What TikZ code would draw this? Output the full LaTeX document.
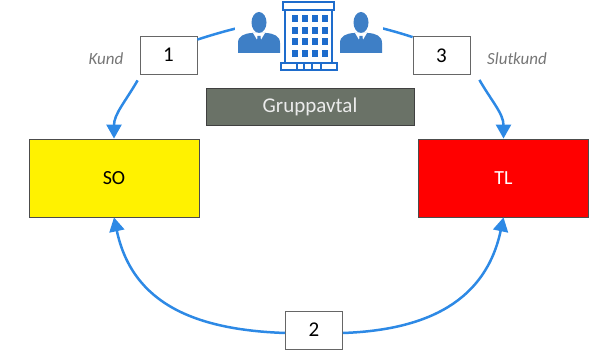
\documentclass[tikz,border=0pt]{standalone}
\usepackage{fontspec}
\setmainfont{Carlito}
\usetikzlibrary{arrows.meta, positioning, calc}

\definecolor{flowblue}{RGB}{45,137,229}
\definecolor{iconblue}{RGB}{62,127,198}
\definecolor{houseblue}{RGB}{30,108,204}
\definecolor{dealgray}{RGB}{106,114,103}
\definecolor{labelgray}{RGB}{118,118,118}

\tikzset{
    numbox/.style={draw=black!60, fill=white, line width=0.8pt, inner sep=0pt,
        minimum width=57pt, minimum height=38pt, font=\fontsize{21}{25}\selectfont},
    partbox/.style={draw=black!70, line width=0.8pt, inner sep=0pt,
        minimum width=170pt, minimum height=78pt, font=\fontsize{20}{24}\selectfont},
    rolelabel/.style={text=labelgray, font=\fontsize{17}{20}\selectfont\itshape},
    flow/.style={draw=flowblue, line width=2.5pt},
    flowarrow/.style={flow, -{Triangle[length=14pt, width=15pt]}},
    person/.pic={
        \fill[iconblue] (-21,0) -- (-21,10) .. controls (-21,17) and (-15,19.5) .. (-7,20)
            -- (7,20) .. controls (15,19.5) and (21,17) .. (21,10) -- (21,0) -- cycle;
        \fill[iconblue] (0,30.5) ellipse [x radius=7.5, y radius=10.5];
        \fill[white] (-6,20) -- (0,10) -- (6,20) -- cycle;
        \fill[iconblue] (-1.5,17) -- (1.5,17) -- (2.5,6) -- (0,3) -- (-2.5,6) -- cycle;
    }
}

\begin{document}
\begin{tikzpicture}[x=1pt, y=1pt]
    \useasboundingbox (0,0) rectangle (603,361);

    % Parties
    \node [partbox, fill=yellow] (so) at (114,183) {SO};
    \node [partbox, fill=red, text=white] (tl) at (503.5,183) {TL};

    % Numbered steps
    \node [numbox] (step1) at (168.5,306) {1};
    \node [numbox] (step3) at (441.5,305.5) {3};
    \node [numbox] (step2) at (314,31) {2};

    \node [rolelabel] (kund) at (106,302) {Kund};
    \node [rolelabel] (slutkund) at (517,302) {Slutkund};

    \node [draw=black!75, fill=dealgray, text=white!92!black, line width=0.8pt,
        minimum width=208pt, minimum height=37pt, inner sep=0pt,
        font=\fontsize{21}{25}\selectfont] (avtal) at (310,254.5) {Gruppavtal};

    % Cycle of arrows
    \draw [flow] ([yshift=-4pt]step1.north east) to[out=18, in=162] ([yshift=-1pt]step3.north west);
    \draw [flowarrow] ([shift={(-2pt,-6pt)}]step1.south west) to[out=240, in=90] (so.north);
    \draw [flowarrow] ([shift={(9pt,-5pt)}]step3.south east) to[out=-60, in=90] (tl.north);
    \draw [flowarrow] ([yshift=-3pt]step2.west) to[out=178, in=-78, looseness=1.1] (so.south);
    \draw [flowarrow] ([yshift=-3pt]step2.east) to[out=2, in=-102, looseness=1.1] (tl.south);

    % Icons over the top arc
    \node [fill=white, inner sep=0pt, minimum width=148pt, minimum height=74pt] (icons) at (309,324) {};
    \pic at (259,308) {person};
    \pic at (361,308) {person};

    \begin{scope}[draw=houseblue, line width=2pt]
        \draw (283,351) rectangle (334,358.5);
        \draw (285,298) rectangle (332,351);
        \draw (281,291) rectangle (297,298);
        \draw (321,291) rectangle (337,298);
        \draw (304,291) rectangle (312,298);
        \draw (280,291) -- (338,291);
    \end{scope}
    \foreach \wx in {295,305,315,325}
        \foreach \wy in {342,330.5,319,307.5}
            \fill [houseblue] (\wx-3,\wy-3.5) rectangle (\wx+3,\wy+3.5);
\end{tikzpicture}
\end{document}
